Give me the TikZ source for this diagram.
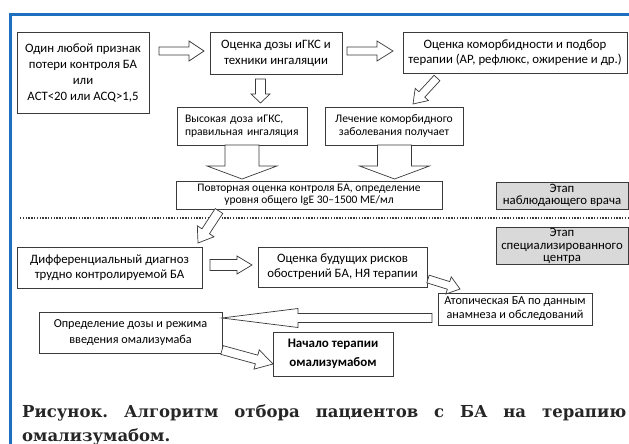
\documentclass[tikz,border=0pt]{standalone}
\usepackage{fontspec}
\setmainfont{Carlito}
\newfontfamily\capfont{DejaVu Serif}
\usetikzlibrary{calc,positioning}
\definecolor{frameblue}{HTML}{1F6FBF}
\definecolor{stagegray}{HTML}{D9D9D9}
\definecolor{linedark}{HTML}{3A3A3A}
\frenchspacing

% hollow block arrow: start, end, half shaft, half head, head length
\newcommand{\blockarrow}[5]{%
  \coordinate (ba-h) at ($(#2)!#5!(#1)$);
  \draw[farr] ($(#1)!#3!90:(#2)$) -- ($(ba-h)!#3!90:(#2)$) -- ($(ba-h)!#4!90:(#2)$) -- (#2)
    -- ($(ba-h)!#4!-90:(#2)$) -- ($(ba-h)!#3!-90:(#2)$) -- ($(#1)!#3!-90:(#2)$) -- cycle;}

\begin{document}
\begin{tikzpicture}[x=1pt,y=-1pt,
  box/.style={draw=linedark,fill=white,line width=0.7pt,inner sep=0pt,align=center},
  gbox/.style={box,fill=stagegray},
  fa/.style={font=\fontsize{12.8}{16}\selectfont},
  fb/.style={font=\fontsize{11.6}{13.5}\selectfont},
  farr/.style={draw=linedark,fill=white,line width=0.7pt,line join=miter},
  capt/.style={anchor=base west,inner sep=0pt,text=black!85,font=\capfont\bfseries\fontsize{16.5}{20}\selectfont}]
\useasboundingbox (0,0) rectangle (629,444);
\draw[frameblue,line width=3pt] (10.5,444) -- (10.5,14.5) -- (629,14.5);

\node[box,fa,minimum width=132pt,minimum height=81pt] (sign) at (83,72.5) {Один любой признак\\потери контроля БА\\или\\ACT<20 или ACQ>1,5};
\node[box,fa,minimum width=132pt,minimum height=42pt] (dose) at (276,53) {Оценка дозы иГКС и\\техники ингаляции};
\node[box,font=\fontsize{12.8}{14.5}\selectfont,minimum width=224pt,minimum height=41pt] (comorb) at (515,52.5) {Оценка коморбидности и подбор\\терапии (АР, рефлюкс, ожирение и др.)};
\node[box,fb,text width=114pt,align=left,minimum width=130pt,minimum height=38pt] (high) at (242,126) {Высокая доза иГКС,\\правильная ингаляция};
\node[box,fb,minimum width=138pt,minimum height=38pt] (treat) at (394,126) {Лечение коморбидного\\заболевания получает};
\node[box,font=\fontsize{11.5}{12.5}\selectfont,minimum width=266pt,minimum height=28pt] (repeat) at (309,195) {Повторная оценка контроля БА, определение\\уровня общего IgE 30–1500 МЕ/мл};
\node[gbox,font=\fontsize{12.8}{12.5}\selectfont,minimum width=132pt,minimum height=27pt] (stage1) at (562,195.5) {Этап\\наблюдающего врача};
\node[gbox,font=\fontsize{12.8}{12.5}\selectfont,minimum width=132pt,minimum height=37pt,below=18pt of stage1] (stage2) {Этап\\специализированного\\центра};
\draw[linedark,line width=1.4pt,dash pattern=on 1.4pt off 1.4pt] (20,218) -- (629,218);

\node[box,font=\fontsize{12.8}{15}\selectfont,minimum width=185pt,minimum height=41pt] (diff) at (109.5,267.5) {Дифференциальный диагноз\\трудно контролируемой БА};
\node[box,font=\fontsize{12.8}{15}\selectfont,minimum width=169pt,minimum height=40pt] (risk) at (342.5,267) {Оценка будущих рисков\\обострений БА, НЯ терапии};
\node[box,font=\fontsize{12.2}{14}\selectfont,minimum width=154pt,minimum height=32pt] (atop) at (515,309) {Атопическая БА по данным\\анамнеза и обследований};
\node[box,font=\fontsize{12.2}{16}\selectfont,minimum width=183pt,minimum height=41pt] (regime) at (130.5,332.5) {Определение дозы и режима\\введения омализумаба};
\node[box,font=\bfseries\fontsize{13}{19}\selectfont,minimum width=120pt,minimum height=44pt] (start) at (333,354) {Начало терапии\\омализумабом};

% arrow ends
\coordinate (s1) at (159,51);    \coordinate (e1) at (204,51);
\coordinate (s2) at (347,51);    \coordinate (e2) at (393,51);
\coordinate (s3) at (260.5,79);  \coordinate (e3) at (260.5,103);
\coordinate (s4) at (437,78);    \coordinate (e4) at (413,104);
\coordinate (s5) at (242,145);   \coordinate (e5) at (242,179);
\coordinate (s6) at (394.5,145); \coordinate (e6) at (394.5,179);
\coordinate (s7) at (219,211);   \coordinate (e7) at (198,243);
\coordinate (s8) at (210,265);   \coordinate (e8) at (252,265);
\coordinate (s9) at (428,279);   \coordinate (e9) at (460,289);
\coordinate (s10) at (432,318);  \coordinate (e10) at (222,318);
\coordinate (s11) at (222,350);  \coordinate (e11) at (273,364);
\blockarrow{s1}{e1}{4pt}{10pt}{15pt}
\blockarrow{s2}{e2}{4pt}{10pt}{16pt}
\blockarrow{s3}{e3}{5pt}{9.5pt}{9pt}
\blockarrow{s4}{e4}{4pt}{9pt}{13pt}
\blockarrow{s5}{e5}{17pt}{35pt}{13pt}
\blockarrow{s6}{e6}{17pt}{35pt}{13pt}
\blockarrow{s7}{e7}{4.5pt}{10pt}{14pt}
\blockarrow{s8}{e8}{5.5pt}{9pt}{15pt}
\blockarrow{s9}{e9}{4pt}{9pt}{12pt}
\blockarrow{s10}{e10}{4.5pt}{9.5pt}{76pt}
\blockarrow{s11}{e11}{4.5pt}{10pt}{17pt}

\node[capt] (cap1) at (22,417) {\makebox[604pt][s]{Рисунок. Алгоритм отбора пациентов с БА на терапию}};
\node[capt] (cap2) at (22,441) {омализумабом.};
\end{tikzpicture}
\end{document}
